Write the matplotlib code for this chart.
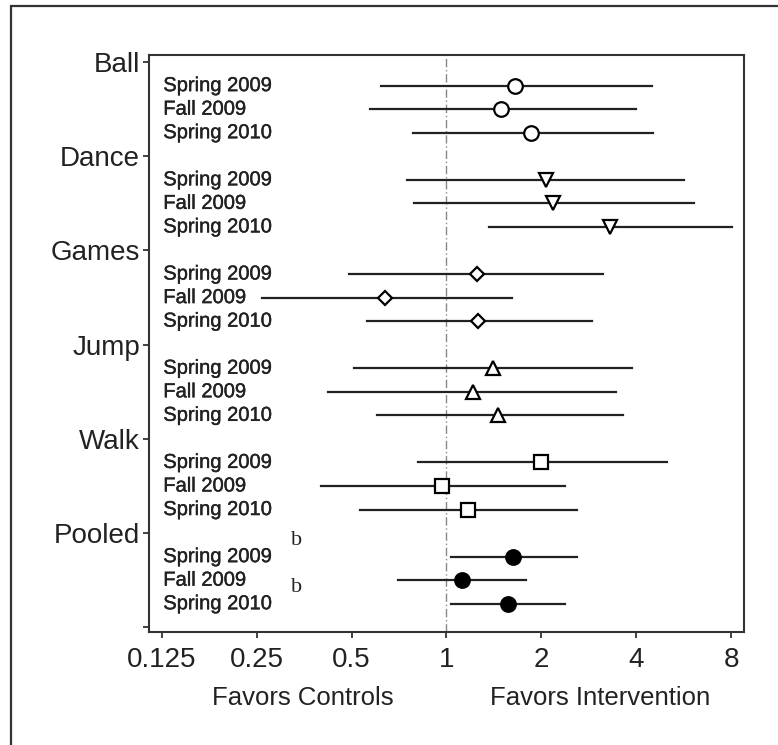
import numpy as np
import matplotlib
matplotlib.use("Agg")
import matplotlib.pyplot as plt
import matplotlib.patheffects as pe
from matplotlib.patches import Rectangle
from matplotlib.ticker import FixedLocator, NullLocator

plt.rcParams['font.family'] = ['Liberation Sans', 'DejaVu Sans']

# data (effect ratio with 95% CI)
groups = ['Ball', 'Dance', 'Games', 'Jump', 'Walk', 'Pooled']
periods = ['Spring 2009', 'Fall 2009', 'Spring 2010']
est = [[1.65, 1.49, 1.86],
       [2.07, 2.18, 3.31],
       [1.25, 0.64, 1.26],
       [1.40, 1.21, 1.46],
       [2.00, 0.97, 1.17],
       [1.63, 1.12, 1.57]]
lo = [[0.62, 0.57, 0.78],
      [0.75, 0.79, 1.36],
      [0.49, 0.26, 0.56],
      [0.51, 0.42, 0.60],
      [0.81, 0.40, 0.53],
      [1.03, 0.70, 1.03]]
hi = [[4.50, 4.00, 4.53],
      [5.68, 6.10, 8.06],
      [3.14, 1.61, 2.90],
      [3.88, 3.46, 3.64],
      [5.00, 2.38, 2.60],
      [2.60, 1.79, 2.38]]
# superscript notes on pooled rows
notes = {(5, 0): 'b', (5, 2): 'b'}

markers = ['o', 'v', 'D', '^', 's', 'o']
msizes = [10.5, 9.5, 7, 9.5, 10.5, 10.5]
filled = [False, False, False, False, False, True]
xticks = [0.125, 0.25, 0.5, 1, 2, 4, 8]
xticklabels = ['0.125', '0.25', '0.5', '1', '2', '4', '8']

fig = plt.figure(figsize=(7.78, 7.45), dpi=100)
# outer frame (clipped at right/bottom like the scan)
fig.patches.append(Rectangle((11 / 778, -0.1), 1.2, 1.1 - 6 / 745, transform=fig.transFigure,
                             fill=False, edgecolor='#333333', linewidth=1.6))

ax = fig.add_axes([149 / 778, 1 - 632 / 745, (744 - 149) / 778, (632 - 55) / 745])
ax.set_xscale('log', base=2)
ax.set_xlim(2 ** -3.137, 2 ** 3.137)
ax.set_ylim(24.2, -0.3)

ax.axvline(1, color='#888888', linewidth=1.0, linestyle=(0, (6, 2, 1, 2)), zorder=1)

bold = [pe.withStroke(linewidth=0.3, foreground='#222222')]
for g in range(len(groups)):
    for p in range(len(periods)):
        y = 4 * g + 1 + p
        ax.plot([lo[g][p], hi[g][p]], [y, y], color='#222222', linewidth=1.6, zorder=2)
        ax.plot(est[g][p], y, marker=markers[g], markersize=msizes[g],
                markerfacecolor='black' if filled[g] else 'white',
                markeredgecolor='black', markeredgewidth=1.6, linestyle='none', zorder=3)
        ax.text(0.024, y, periods[p], transform=ax.get_yaxis_transform(),
                ha='left', va='center', fontsize=14.5, color='#222222', path_effects=bold)
        if (g, p) in notes:
            ax.text(0.238, y - 0.7, notes[(g, p)], transform=ax.get_yaxis_transform(),
                    ha='left', va='center', fontsize=16, family='Liberation Serif',
                    color='#222222')

ax.yaxis.set_major_locator(FixedLocator([4 * g for g in range(len(groups) + 1)]))
ax.set_yticklabels(groups + [''])
ax.yaxis.set_minor_locator(NullLocator())
ax.xaxis.set_major_locator(FixedLocator(xticks))
ax.xaxis.set_minor_locator(NullLocator())
ax.set_xticklabels(xticklabels)

ax.tick_params(axis='y', length=4.5, width=1.2, pad=2, labelsize=20, colors='#222222')
ax.tick_params(axis='x', length=4.5, width=1.2, pad=6, labelsize=20, colors='#222222')
for s in ax.spines.values():
    s.set_color('#333333')
    s.set_linewidth(1.5)

ax.text(0.35, -0.115, 'Favors Controls', transform=ax.get_xaxis_transform(),
        ha='center', va='center', fontsize=18.5, color='#222222')
ax.text(3.08, -0.115, 'Favors Intervention', transform=ax.get_xaxis_transform(),
        ha='center', va='center', fontsize=18.5, color='#222222')

fig.savefig('out.png', dpi=100)
